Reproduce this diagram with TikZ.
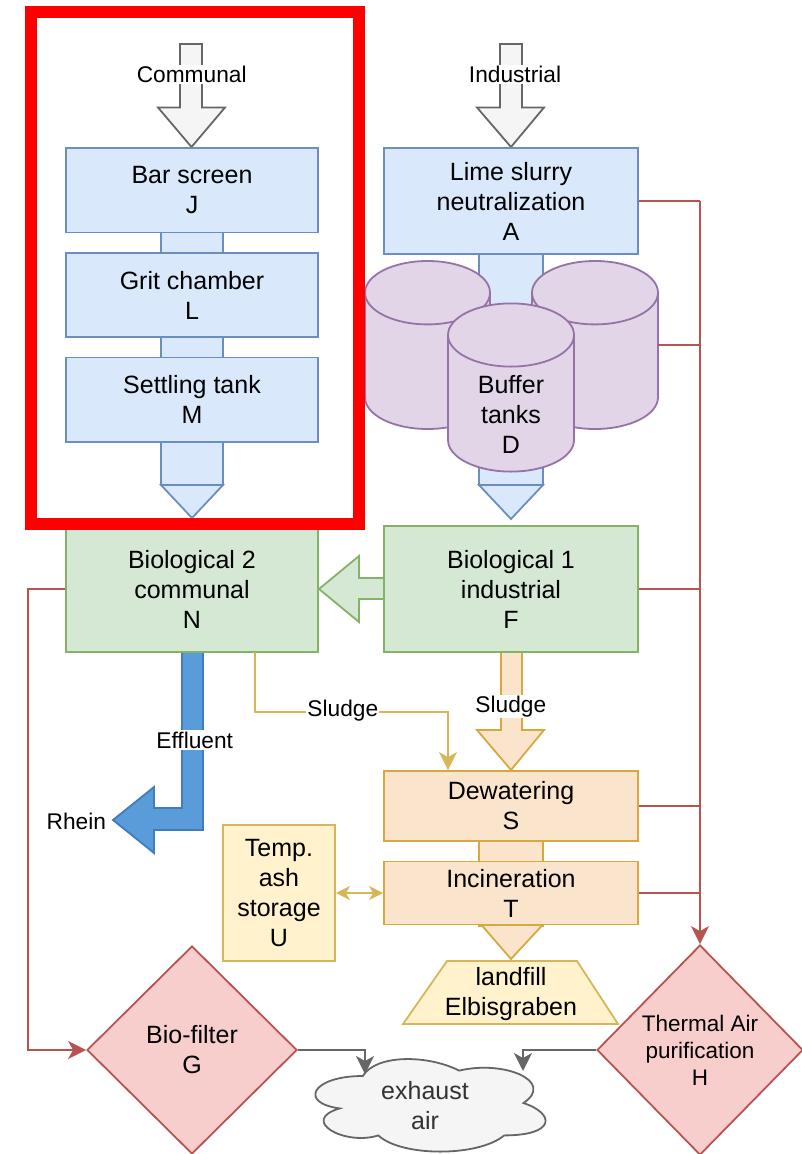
\documentclass[tikz,border=0pt]{standalone}
\usepackage{fontspec}
\setmainfont{Liberation Sans}
\usetikzlibrary{arrows.meta,shapes.geometric}
\definecolor{blueF}{HTML}{DAE8FC}\definecolor{blueS}{HTML}{6C8EBF}
\definecolor{greenF}{HTML}{D5E8D4}\definecolor{greenS}{HTML}{82B366}
\definecolor{purF}{HTML}{E1D5E7}\definecolor{purS}{HTML}{9673A6}
\definecolor{redF}{HTML}{F8CECC}\definecolor{redS}{HTML}{B85450}
\definecolor{orF}{HTML}{FAE4CB}\definecolor{orS}{HTML}{D6A940}
\definecolor{yelF}{HTML}{FFF2CC}\definecolor{yelS}{HTML}{D6B656}
\definecolor{grayF}{HTML}{F5F5F5}\definecolor{grayS}{HTML}{666666}
\definecolor{effF}{HTML}{5A9BDA}\definecolor{effS}{HTML}{3F7CC0}
\definecolor{txtG}{HTML}{333333}
\definecolor{frameR}{HTML}{FF0000}
\begin{document}
\begin{tikzpicture}[x=1pt,y=-1pt,
  txt/.style={align=center,inner sep=0pt,font=\fontsize{25}{30}\selectfont},
  shp/.style={txt,line width=1.8pt},
  bluebox/.style={shp,draw=blueS,fill=blueF},
  greenbox/.style={shp,draw=greenS,fill=greenF},
  orbox/.style={shp,draw=orS,fill=orF},
  yelbox/.style={shp,draw=yelS,fill=yelF},
  diam/.style={shp,diamond,aspect=1,draw=redS,fill=redF},
  lab/.style={fill=white,inner sep=1.2pt,font=\fontsize{22.7}{27}\selectfont},
  blk/.style={line width=1.8pt,line join=miter},
  redl/.style={draw=redS,line width=2pt},
  grayl/.style={draw=grayS,line width=2pt},
  sludl/.style={draw=yelS,line width=2pt},
  >={Stealth[length=18pt,width=18pt,inset=5pt]}
]
\useasboundingbox (0,0) rectangle (802,1154);

% ---------- block arrow shafts and heads (behind boxes) ----------
\filldraw[blk,draw=blueS,fill=blueF] (161,225) rectangle (223,485);
\filldraw[blk,draw=blueS,fill=blueF] (161,485) -- (223,485) -- (192,518) -- cycle;
\filldraw[blk,draw=blueS,fill=blueF] (479,245) rectangle (543,485);
\filldraw[blk,draw=blueS,fill=blueF] (479,485) -- (543,485) -- (511,519) -- cycle;
\filldraw[blk,draw=orS,fill=orF] (479,835) rectangle (543,926);
\filldraw[blk,draw=orS,fill=orF] (481.5,925) -- (542.5,925) -- (511,959) -- cycle;
% inflow arrows
\filldraw[blk,draw=grayS,fill=grayF] (180,44) -- (202,44) -- (202,107.5) -- (225,107.5) -- (191.5,147) -- (158,107.5) -- (180,107.5) -- cycle;
\filldraw[blk,draw=grayS,fill=grayF] (500,44) -- (522,44) -- (522,107.5) -- (544,107.5) -- (511,147) -- (477,107.5) -- (500,107.5) -- cycle;
% sludge block arrow F -> S
\filldraw[blk,draw=orS,fill=orF] (501,645) -- (522,645) -- (522,730) -- (544,730) -- (511,770) -- (477,730) -- (501,730) -- cycle;
% green arrow F -> N
\filldraw[blk,draw=greenS,fill=greenF] (392,578) -- (359,578) -- (359,556) -- (319,589) -- (359,622) -- (359,599) -- (392,599) -- cycle;
% effluent arrow
\filldraw[blk,draw=effS,fill=effF] (182,645) -- (203,645) -- (203,830) -- (154,830) -- (154,853) -- (113,820) -- (154,787) -- (154,808) -- (182,808) -- cycle;

% ---------- buffer tanks ----------
\filldraw[blk,draw=purS,fill=purF] (365,292.7) -- (365,397.3) .. controls (365,414.8) and (393,429) .. (427.5,429) .. controls (462,429) and (490,414.8) .. (490,397.3) -- (490,292.7) -- cycle;
\filldraw[blk,draw=purS,fill=purF] (427.5,292.7) ellipse [x radius=62.5, y radius=31.7];
\filldraw[blk,draw=purS,fill=purF] (532,292.7) -- (532,397.3) .. controls (532,414.8) and (560.2,429) .. (595,429) .. controls (629.8,429) and (658,414.8) .. (658,397.3) -- (658,292.7) -- cycle;
\filldraw[blk,draw=purS,fill=purF] (595,292.7) ellipse [x radius=63, y radius=31.7];
\filldraw[blk,draw=purS,fill=purF] (448,335) -- (448,440) .. controls (448,457.5) and (476.2,471.6) .. (511,471.6) .. controls (545.8,471.6) and (574,457.5) .. (574,440) -- (574,335) -- cycle;
\filldraw[blk,draw=purS,fill=purF] (511,335) ellipse [x radius=63, y radius=31.6];
\node[txt] (D) at (511,414) {Buffer\\tanks\\D};
\coordinate (Dr) at (658,345);

% ---------- boxes ----------
\node[bluebox,minimum width=252pt,minimum height=84.5pt] (J) at (192,190.3) {Bar screen\\J};
\node[bluebox,minimum width=252pt,minimum height=84.5pt] (L) at (192,295) {Grit chamber\\L};
\node[bluebox,minimum width=252pt,minimum height=84.5pt] (M) at (192,399.8) {Settling tank\\M};
\node[bluebox,minimum width=254pt,minimum height=106pt] (A) at (511,201) {Lime slurry\\neutralization\\A};
\node[greenbox,minimum width=252pt,minimum height=126pt] (N) at (192,589) {Biological 2\\communal\\N};
\node[greenbox,minimum width=254pt,minimum height=126pt] (F) at (511,589) {Biological 1\\industrial\\F};
\node[orbox,minimum width=254pt,minimum height=70pt] (S) at (511,806) {Dewatering\\S};
\node[orbox,minimum width=254pt,minimum height=63pt] (T) at (511,893) {Incineration\\T};
\node[yelbox,minimum width=112pt,minimum height=136pt] (U) at (279,893) {Temp.\\ash\\storage\\U};
\filldraw[blk,draw=yelS,fill=yelF] (447,961) -- (577,961) -- (618,1024) -- (403,1024) -- cycle;
\node[txt] (LF) at (511,994.5) {landfill\\Elbisgraben};
\node[diam,minimum width=210pt,minimum height=208pt] (G) at (192,1050) {Bio-filter\\G};
\node[diam,minimum width=206pt,minimum height=210pt,font=\fontsize{22.5}{27}\selectfont] (H) at (700,1050) {Thermal Air\\purification\\H};
\filldraw[blk,draw=grayS,fill=grayF] (362.85,1076) .. controls (311.45,1076) and (298.6,1103) .. (339.7,1108.4) .. controls (298.6,1120.3) and (344.86,1146.2) .. (378.27,1135.4) .. controls (401.4,1157) and (478.5,1157) .. (504.2,1135.4) .. controls (555.6,1135.4) and (555.6,1113.8) .. (523.5,1103) .. controls (555.6,1081.4) and (504.2,1059.8) .. (459.2,1070.6) .. controls (427.1,1054.4) and (375.7,1054.4) .. (362.85,1076) -- cycle;
\node[txt,text=txtG] (EX) at (425,1106) {exhaust\\air};

% ---------- thin connectors ----------
\coordinate (rx) at (700,0);
\coordinate (nl) at (28,0);
\draw[redl] (A.east) -- (A.east -| rx);
\draw[redl] (Dr) -- (Dr -| rx);
\draw[redl] (F.east) -- (F.east -| rx);
\draw[redl] (S.east) -- (S.east -| rx);
\draw[redl] (T.east) -- (T.east -| rx);
\draw[redl,->] (A.east -| rx) -- (H.north);
\draw[redl,->] (N.west) -- (N.west -| nl) |- (G.west);
\coordinate (gl) at (365,1074);
\coordinate (gr) at (523,1071);
\draw[grayl,->] (G.east) -| (gl);
\draw[grayl,->] (H.west) -| (gr);
\coordinate (ns) at (255,652);
\coordinate (sk) at (448,712);
\draw[sludl,->] (ns) |- (sk) -- (S.north -| sk);
\draw[sludl,{Stealth[length=14pt,width=14pt,inset=4pt]}-{Stealth[length=14pt,width=14pt,inset=4pt]}] (U.east) -- (T.west);

% ---------- labels ----------
\node[lab] (lc) at (191.7,74.4) {Communal};
\node[lab] (li) at (515,74.4) {Industrial};
\node[lab] (le) at (194.7,740) {Effluent};
\node[font=\fontsize{22.7}{27}\selectfont,inner sep=0pt] (rh) at (76.3,821) {Rhein};
\node[lab] (ls1) at (342.8,711) {Sludge};
\node[lab] (ls2) at (510.8,706.7) {Sludge};

% ---------- highlight frame ----------
\draw[frameR,line width=11.8pt] (31,11.8) rectangle (359,524);
\end{tikzpicture}
\end{document}
